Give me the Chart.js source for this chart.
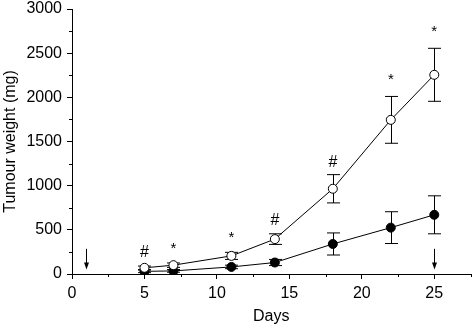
<!DOCTYPE html>
<html><head><meta charset="utf-8">
<script src="https://cdn.jsdelivr.net/npm/chart.js@4/dist/chart.umd.min.js"></script>
<style>html,body{margin:0;padding:0;background:#fff}#wrap{width:476px;height:326px}</style>
</head><body><div id="wrap"><canvas id="c" width="476" height="326"></canvas></div>
<script>
const days = [5, 7, 11, 14, 18, 22, 25];
const controlMean = [70, 100, 205, 395, 965, 1745, 2255];
const controlErr = [20, 25, 40, 60, 160, 265, 300];
const treatedMean = [30, 35, 80, 130, 340, 525, 670];
const treatedErr = [15, 15, 20, 35, 125, 180, 215];
const markDays = [5, 7, 11, 14, 18, 22, 25];
const markText = ['#', '*', '*', '#', '#', '*', '*'];
const markY = [240, 290, 410, 600, 1260, 2200, 2740];
const arrowDays = [1, 25];
const arrowTop = 285;
const arrowBottom = 50;

const FONT = "'Liberation Sans', Arial, sans-serif";

const extras = {
  id: 'extras',
  beforeDatasetsDraw(chart) {
    const {ctx, scales: {x, y}} = chart;
    ctx.save();
    ctx.strokeStyle = '#000';
    ctx.lineWidth = 1;
    const cap = 6.5;
    [[controlMean, controlErr], [treatedMean, treatedErr]].forEach(([m, e]) => {
      days.forEach((d, i) => {
        const px = Math.round(x.getPixelForValue(d)) + 0.5;
        const yt = y.getPixelForValue(m[i] + e[i]);
        const yb = y.getPixelForValue(m[i] - e[i]);
        ctx.beginPath();
        ctx.moveTo(px, yt); ctx.lineTo(px, yb);
        ctx.moveTo(px - cap, yt); ctx.lineTo(px + cap, yt);
        ctx.moveTo(px - cap, yb); ctx.lineTo(px + cap, yb);
        ctx.stroke();
      });
    });
    ctx.restore();
  },
  afterDraw(chart) {
    const {ctx, scales: {x, y}, chartArea} = chart;
    ctx.save();
    ctx.strokeStyle = '#000';
    ctx.fillStyle = '#000';
    ctx.lineWidth = 1;
    const bx = chartArea.bottom, lx = chartArea.left;
    for (let v = 2.5; v <= 27.5; v += 5) {
      const px = Math.round(x.getPixelForValue(v)) + 0.5;
      ctx.beginPath(); ctx.moveTo(px, bx); ctx.lineTo(px, bx + 3); ctx.stroke();
    }
    for (let v = 250; v < 3000; v += 500) {
      const py = Math.round(y.getPixelForValue(v)) + 0.5;
      ctx.beginPath(); ctx.moveTo(lx, py); ctx.lineTo(lx - 3, py); ctx.stroke();
    }
    ctx.textAlign = 'center';
    ctx.textBaseline = 'middle';
    markDays.forEach((d, i) => {
      ctx.font = (markText[i] === '#' ? '16px ' : '15px ') + FONT;
      ctx.fillText(markText[i], x.getPixelForValue(d), y.getPixelForValue(markY[i]));
    });
    arrowDays.forEach(d => {
      const px = Math.round(x.getPixelForValue(d)) + 0.5;
      const t = y.getPixelForValue(arrowTop), b = y.getPixelForValue(arrowBottom);
      ctx.beginPath(); ctx.moveTo(px, t); ctx.lineTo(px, b - 3); ctx.stroke();
      ctx.beginPath(); ctx.moveTo(px - 2.5, b - 7); ctx.lineTo(px + 2.5, b - 7); ctx.lineTo(px, b); ctx.closePath(); ctx.fill();
    });
    ctx.restore();
  }
};

const toPts = (m) => days.map((d, i) => ({x: d, y: m[i]}));

new Chart(document.getElementById('c'), {
  type: 'line',
  data: {
    datasets: [
      {data: toPts(controlMean), borderColor: '#000', borderWidth: 1, pointRadius: 4.5, pointBackgroundColor: '#fff', pointBorderColor: '#000', pointBorderWidth: 1, tension: 0},
      {data: toPts(treatedMean), borderColor: '#000', borderWidth: 1, pointRadius: 4.5, pointBackgroundColor: '#000', pointBorderColor: '#000', pointBorderWidth: 1, tension: 0}
    ]
  },
  options: {
    responsive: false,
    animation: false,
    devicePixelRatio: 1,
    layout: {padding: {top: 0, right: 2, left: 1, bottom: 0}},
    plugins: {legend: {display: false}, tooltip: {enabled: false}},
    scales: {
      x: {
        type: 'linear', min: 0, max: 27.5,
        afterFit(s) { s.height = 52; },
        border: {display: true, color: '#000', width: 1},
        grid: {drawOnChartArea: false, drawTicks: true, tickLength: 5, color: '#000', tickColor: '#000'},
        ticks: {stepSize: 5, includeBounds: false, color: '#000', font: {family: FONT, size: 16}, padding: 5,
          callback: v => (v % 5 === 0 ? String(v) : '')},
        title: {display: true, text: 'Days', color: '#000', font: {family: FONT, size: 16}, padding: {top: 0, bottom: 0}}
      },
      y: {
        type: 'linear', min: 0, max: 3000,
        afterFit(s) { s.width = 71; s.paddingTop = 9; s.paddingBottom = 0; },
        border: {display: true, color: '#000', width: 1},
        grid: {drawOnChartArea: false, drawTicks: true, tickLength: 5, color: '#000', tickColor: '#000'},
        ticks: {stepSize: 500, color: '#000', font: {family: FONT, size: 16}, padding: 5,
          callback: v => String(v)},
        title: {display: true, text: 'Tumour weight (mg)', color: '#000', font: {family: FONT, size: 16}, padding: {top: 0, bottom: 0}}
      }
    }
  },
  plugins: [extras]
});
</script>
</body></html>
